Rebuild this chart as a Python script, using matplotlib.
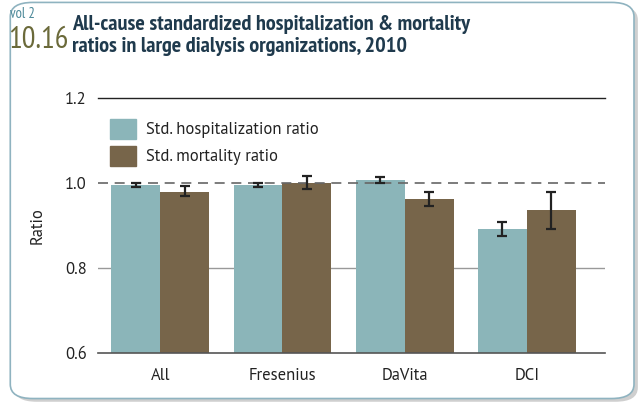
import matplotlib
matplotlib.use('Agg')
import matplotlib.pyplot as plt
from matplotlib.patches import FancyBboxPatch, Patch
import numpy as np

categories = ['All', 'Fresenius', 'DaVita', 'DCI']
hosp_ratio = [0.995, 0.995, 1.007, 0.892]
hosp_low = [0.990, 0.990, 1.000, 0.876]
hosp_high = [1.001, 1.001, 1.013, 0.908]
mort_ratio = [0.979, 1.000, 0.962, 0.936]
mort_low = [0.970, 0.986, 0.946, 0.892]
mort_high = [0.992, 1.016, 0.978, 0.980]
y_ticks = [0.6, 0.8, 1.0, 1.2]

TEAL = '#8bb5b9'
BROWN = '#77654a'
NARROW = ['PT Sans Narrow', 'DejaVu Sans']
plt.rcParams['font.family'] = ['PT Sans', 'DejaVu Sans']
plt.rcParams['text.color'] = '#222222'

fig = plt.figure(figsize=(6.43, 4.05), dpi=100)

# frame with shadow
shadow = FancyBboxPatch((0.022, 0.008), 0.970, 0.978, boxstyle='round,pad=0,rounding_size=0.035',
                        transform=fig.transFigure, facecolor='#cfcfcf', edgecolor='none', zorder=-2)
frame = FancyBboxPatch((0.016, 0.016), 0.970, 0.978, boxstyle='round,pad=0,rounding_size=0.035',
                       transform=fig.transFigure, facecolor='white', edgecolor='#8fb3c0', linewidth=1.2, zorder=-1)
fig.patches.extend([shadow, frame])

fig.text(0.016, 0.955, 'vol 2', color='#4e8a9a', fontsize=10.5, family=NARROW, va='baseline')
fig.text(0.012, 0.882, '10.16', color='#6b6a3a', fontsize=22, family=NARROW, va='baseline')
fig.text(0.112, 0.925, 'All-cause standardized hospitalization & mortality',
         color='#1f3a4d', fontsize=16, fontweight='bold', family=NARROW, va='baseline')
fig.text(0.112, 0.872, 'ratios in large dialysis organizations, 2010',
         color='#1f3a4d', fontsize=16, fontweight='bold', family=NARROW, va='baseline')

ax = fig.add_axes([0.1524, 0.1284, 0.7886, 0.6296])
x = np.arange(len(categories))
w = 0.40
hosp_err = [np.array(hosp_ratio) - np.array(hosp_low), np.array(hosp_high) - np.array(hosp_ratio)]
mort_err = [np.array(mort_ratio) - np.array(mort_low), np.array(mort_high) - np.array(mort_ratio)]

ax.bar(x - w / 2, hosp_ratio, w, color=TEAL, zorder=2)
ax.bar(x + w / 2, mort_ratio, w, color=BROWN, zorder=2)
ax.errorbar(x - w / 2, hosp_ratio, yerr=hosp_err, fmt='none', ecolor='#222222', elinewidth=1.6,
            capsize=3.8, capthick=1.6, zorder=4)
ax.errorbar(x + w / 2, mort_ratio, yerr=mort_err, fmt='none', ecolor='#222222', elinewidth=1.6,
            capsize=3.8, capthick=1.6, zorder=4)

ax.axhline(1.2, color='#222222', lw=1.0, zorder=1, clip_on=False)
ax.axhline(0.8, color='#999999', lw=1.0, zorder=1)
ax.axhline(1.0, color='#666666', lw=1.2, ls=(0, (6, 4)), zorder=3)

ax.set_xlim(-0.51, 3.64)
ax.set_ylim(0.6, 1.2)
ax.set_yticks(y_ticks)
ax.set_yticklabels(['%.1f' % t for t in y_ticks], fontsize=12)
ax.set_xticks(x)
ax.set_xticklabels(categories, fontsize=12)
ax.tick_params(axis='both', length=0, pad=8, labelcolor='#222222')
ax.tick_params(axis='x', pad=11)
for s in ['top', 'right', 'left']:
    ax.spines[s].set_visible(False)
ax.spines['bottom'].set_color('#555555')
ax.spines['bottom'].set_linewidth(1.2)
ax.set_ylabel('Ratio', fontsize=12, labelpad=14, color='#222222')
ax.patch.set_alpha(0)

handles = [Patch(color=TEAL, label='Std. hospitalization ratio'),
           Patch(color=BROWN, label='Std. mortality ratio')]
ax.legend(handles=handles, loc='upper left', bbox_to_anchor=(0.0, 0.965), frameon=False, fontsize=12,
          handlelength=1.6, handleheight=1.5, handletextpad=0.6, labelspacing=0.4, borderaxespad=0.3)

fig.savefig('out.png', dpi=100)
